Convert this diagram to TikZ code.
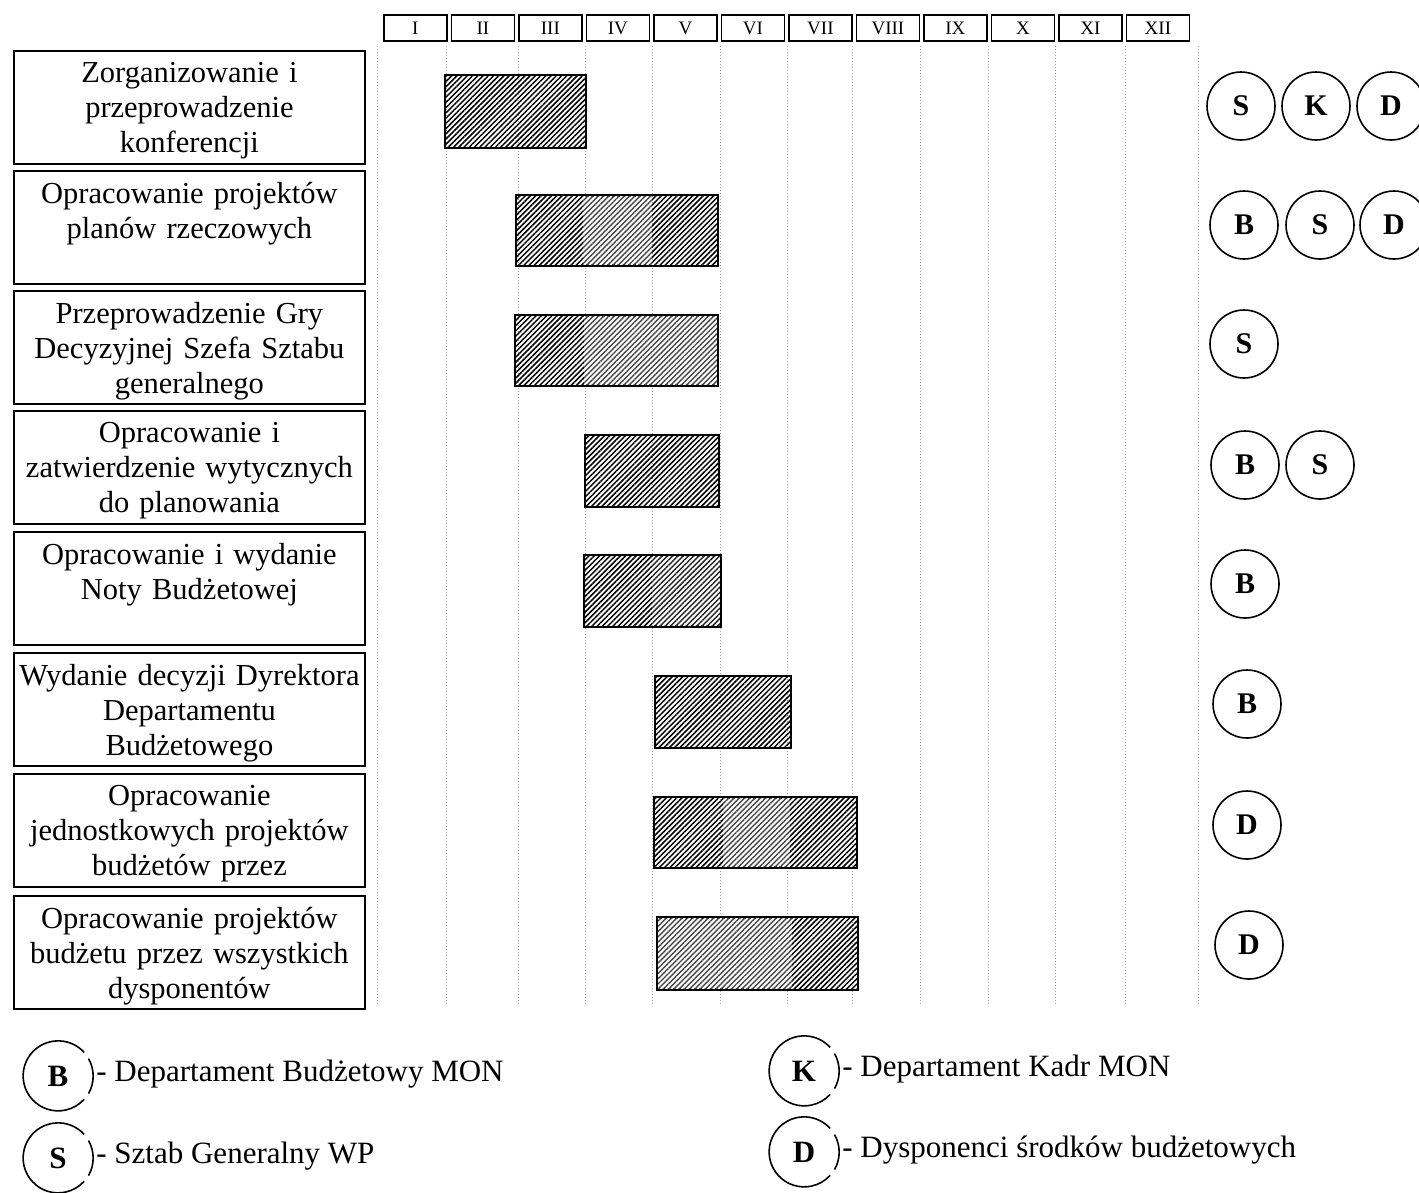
\documentclass[tikz,border=0pt]{standalone}
\usepackage{fontspec}
\setmainfont{Liberation Serif}
\usetikzlibrary{patterns.meta}
\begin{document}
\begin{tikzpicture}[x=1pt,y=-1pt,
  taskbox/.style={draw, line width=1.8pt, minimum width=351pt, minimum height=113pt, anchor=north west, inner sep=0pt},
  tasktext/.style={align=center, font=\fontsize{30.5}{35}\selectfont, anchor=north, inner sep=0pt, text width=348pt},
  monthbox/.style={draw, line width=1.8pt, minimum width=63pt, minimum height=26pt, anchor=north west, inner sep=0pt, text height=12.6pt, text depth=0pt, font=\fontsize{19}{19}\selectfont},
  gridline/.style={gray!70, line width=0.9pt, dash pattern=on 1.2pt off 1.8pt},
  hatch/.style={pattern={Lines[angle=45,distance=3.7pt,line width=1.5pt]}, pattern color=black},
  hatchlight/.style={pattern={Lines[angle=45,distance=3.7pt,line width=1.4pt]}, pattern color=black!72},
  barborder/.style={draw, line width=2pt},
  unit/.style={circle, draw, line width=1.6pt, minimum size=68pt, inner sep=0pt, font=\fontsize{30}{30}\selectfont\bfseries},
  legcircle/.style={circle, minimum size=70pt, inner sep=0pt, font=\fontsize{31}{31}\selectfont\bfseries},
  legarc/.style={line width=1.6pt},
  legtext/.style={anchor=west, inner sep=0pt, font=\fontsize{31}{31}\selectfont}
]
\useasboundingbox (0,0) rectangle (1419,1192);
\fill[white] (0,0) rectangle (1419,1192);

% grid lines
\foreach \gx in {377,446,518,585,652,720,787,852,920,988,1055,1125,1198}
  \draw[gridline] (\gx,46) -- (\gx,1006);

% month header
\foreach \m [count=\i from 0] in {I,II,III,IV,V,VI,VII,VIII,IX,X,XI,XII}
  \node[monthbox] (m\i) at ({383+67.5*\i},14) {\m};

% task boxes
\foreach \ty/\name/\txt in {
  50/t1/{Zorganizowanie i\\przeprowadzenie\\konferencji},
  170/t2/{Opracowanie projektów\\planów rzeczowych},
  290/t3/{Przeprowadzenie Gry\\Decyzyjnej Szefa Sztabu\\generalnego},
  410/t4/{Opracowanie i\\zatwierdzenie wytycznych\\do planowania},
  531/t5/{Opracowanie i wydanie\\Noty Budżetowej},
  652/t6/{Wydanie decyzji Dyrektora\\Departamentu\\Budżetowego},
  773/t7/{Opracowanie\\jednostkowych projektów\\budżetów przez},
  895/t8/{Opracowanie projektów\\budżetu przez wszystkich\\dysponentów}}
{
  \node[taskbox] (\name) at (13,\ty) {};
  \node[tasktext] (\name txt) at ([yshift=-12pt]\name.north) {\txt};
}

% bars
\fill[hatch] (445,75) rectangle (586,148);
\draw[barborder] (445,75) rectangle (586,148);

\fill[hatch] (516,195) rectangle (718,266);
\fill[white] (583,197) rectangle (652,264);
\fill[hatchlight] (583,195) rectangle (652,266);
\draw[barborder] (516,195) rectangle (718,266);

\fill[hatch] (515,315) rectangle (718,386);
\fill[white] (584,317) rectangle (718,384);
\fill[hatchlight] (584,315) rectangle (718,386);
\draw[barborder] (515,315) rectangle (718,386);

\fill[hatch] (585,435) rectangle (719,507);
\draw[barborder] (585,435) rectangle (719,507);

\fill[hatch] (584,555) rectangle (721,627);
\fill[white] (652,557) rectangle (721,625);
\fill[pattern={Lines[angle=45,distance=3.7pt,line width=1.45pt]}, pattern color=black!85] (652,555) rectangle (721,627);
\draw[barborder] (584,555) rectangle (721,627);

\fill[hatch] (655,676) rectangle (791,748);
\draw[barborder] (655,676) rectangle (791,748);

\fill[hatch] (654,797) rectangle (857,868);
\fill[white] (723,799) rectangle (790,866);
\fill[hatchlight] (723,797) rectangle (790,868);
\draw[barborder] (654,797) rectangle (857,868);

\fill[hatch] (657,917) rectangle (858,990);
\fill[white] (657,919) rectangle (792,988);
\fill[hatchlight] (657,917) rectangle (792,990);
\draw[barborder] (657,917) rectangle (858,990);

% responsible units
\node[unit] (c1a) at (1241,106) {S};
\node[unit] (c1b) at (1316,106) {K};
\node[unit] (c1c) at (1391,106) {D};
\node[unit] (c2a) at (1244,225) {B};
\node[unit] (c2b) at (1320,225) {S};
\node[unit] (c2c) at (1394,225) {D};
\node[unit] (c3a) at (1244,344) {S};
\node[unit] (c4a) at (1245,465) {B};
\node[unit] (c4b) at (1320,465) {S};
\node[unit] (c5a) at (1245,584) {B};
\node[unit] (c6a) at (1247,704) {B};
\node[unit] (c7a) at (1247,825) {D};
\node[unit] (c8a) at (1249,945) {D};

% legend
\foreach \nm/\lx/\ly/\lt/\txt in {
  lb/58/1076/B/{- Departament Budżetowy MON},
  ls/58/1158/S/{- Sztab Generalny WP},
  lk/804/1071/K/{- Departament Kadr MON},
  ld/804/1152/D/{- Dysponenci środków budżetowych}}
{
  \node[legcircle] (\nm) at (\lx,\ly) {\lt};
  \draw[legarc] (\nm.42) arc[start angle=42, end angle=318, radius=35pt];
  \draw[legarc] (\nm.-30) arc[start angle=-30, end angle=30, radius=35pt];
  \node[legtext] (\nm txt) at ([xshift=3pt,yshift=2pt]\nm.east) {\txt};
}
\end{tikzpicture}
\end{document}
